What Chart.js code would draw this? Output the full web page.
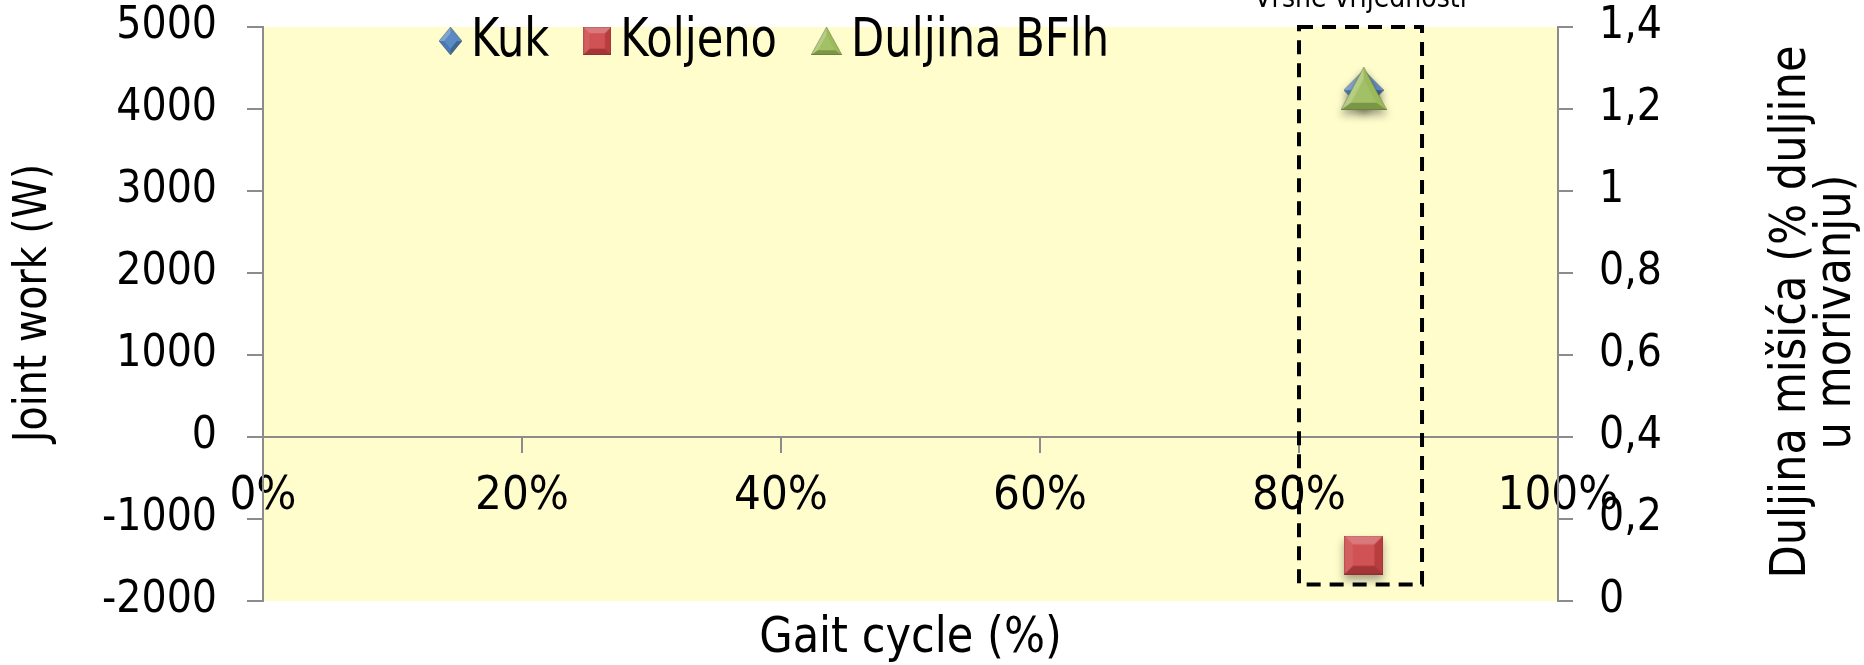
<!DOCTYPE html>
<html>
<head>
<meta charset="utf-8">
<script src="https://cdn.jsdelivr.net/npm/chart.js@4.4.0/dist/chart.umd.min.js"></script>
<style>
  html, body { margin: 0; padding: 0; background: #fff; }
  #wrap { width: 1864px; height: 665px; }
</style>
</head>
<body>
<div id="wrap"><canvas id="chart"></canvas></div>
<script>
// vršne vrijednosti: rad zgloba kuka i koljena, duljina BFlh
const peakGait = [85];
const kukWork = [4230];
const koljenoWork = [-1440];
const bflhLength = [1.25];

const gaitTicks = ['0%', '20%', '40%', '60%', '80%', '100%'];
const workTicks = ['-2000', '-1000', '0', '1000', '2000', '3000', '4000', '5000'];
const lengthTicks = ['0', '0,2', '0,4', '0,6', '0,8', '1', '1,2', '1,4'];

// okvir oko vršnih vrijednosti (u jedinicama osi)
const peakWindow = [80, 89.5];
const peakRange = [-1800, 5000];

const FONT = "'DejaVu Sans Condensed', 'Liberation Sans Narrow', 'DejaVu Sans', sans-serif";
const AXIS_GREY = '#8c8c8c';

Chart.defaults.font.family = FONT;
Chart.defaults.font.size = 46;
Chart.defaults.color = '#000';

// marker sa "bevel" sjenčanjem, kao u Excelu
function bevelMarker(shape, w, h, mid) {
    const c = document.createElement('canvas');
    c.width = w;
    c.height = h;
    const g = c.getContext('2d');
    let pts;
    if (shape === 'diamond') pts = [[w / 2, 0], [w, h / 2], [w / 2, h], [0, h / 2]];
    else if (shape === 'square') pts = [[0, 0], [w, 0], [w, h], [0, h]];
    else pts = [[w / 2, 0], [w, h], [0, h]];
    const cx = pts.reduce((s, p) => s + p[0], 0) / pts.length;
    const cy = shape === 'triangle' ? h * 0.62 : h / 2;

    const poly = (list) => {
        g.beginPath();
        list.forEach((p, i) => (i ? g.lineTo(p[0], p[1]) : g.moveTo(p[0], p[1])));
        g.closePath();
    };

    poly(pts);
    g.fillStyle = mid;
    g.fill();

    // fasete: svjetlo gore lijevo
    const L = [-0.45, -0.9];
    for (let i = 0; i < pts.length; i++) {
        const a = pts[i], b = pts[(i + 1) % pts.length];
        let nx = b[1] - a[1], ny = -(b[0] - a[0]);
        const len = Math.hypot(nx, ny);
        nx /= len; ny /= len;
        const d = nx * L[0] + ny * L[1];
        poly([a, b, [cx, cy]]);
        g.fillStyle = d > 0 ? `rgba(255,255,255,${0.32 * d})` : `rgba(0,0,0,${0.22 * -d})`;
        g.fill();
    }
    // ravni gornji dio
    const k = 0.55;
    poly(pts.map(p => [cx + (p[0] - cx) * k, cy + (p[1] - cy) * k]));
    g.fillStyle = mid;
    g.fill();
    g.fillStyle = 'rgba(255,255,255,0.08)';
    g.fill();

    poly(pts);
    g.lineWidth = 1;
    g.strokeStyle = 'rgba(0,0,0,0.25)';
    g.stroke();
    return c;
}

const BLUE = '#4f81bd', RED = '#cc4446', GREEN = '#9bbb59';

const markers = {
    kuk: bevelMarker('diamond', 40, 40, BLUE),
    koljeno: bevelMarker('square', 39, 39, RED),
    bflh: bevelMarker('triangle', 46, 43, GREEN)
};
const legendMarkers = [
    bevelMarker('diamond', 23, 28, BLUE),
    bevelMarker('square', 28, 28, RED),
    bevelMarker('triangle', 31, 28, GREEN)
];

const toPoints = (ys) => ys.map((y, i) => ({ x: peakGait[i], y }));

// tekst malo izdužen po visini
function tallText(ctx, text, x, y, size, stretch) {
    ctx.save();
    ctx.font = `${size}px ${FONT}`;
    ctx.translate(x, y);
    ctx.scale(1, stretch);
    ctx.fillText(text, 0, 0);
    ctx.restore();
}

const noEndPadding = (w) => (s) => {
    s.width = w;
    s.paddingTop = 0;
    s.paddingBottom = 0;
};

const decor = {
    id: 'decor',
    beforeDraw(chart) {
        const { ctx, chartArea: a } = chart;
        ctx.save();
        ctx.fillStyle = '#fffdcc';
        ctx.fillRect(a.left, a.top, a.right - a.left, a.bottom - a.top);
        ctx.restore();
    },
    beforeDatasetsDraw(chart) {
        const ctx = chart.ctx;
        ctx.save();
        ctx.shadowColor = 'rgba(0,0,0,0.35)';
        ctx.shadowBlur = 8;
        ctx.shadowOffsetY = 5;
    },
    afterDatasetsDraw(chart) {
        const ctx = chart.ctx;
        ctx.restore();

        // isprekidani okvir
        const xs = chart.scales.x, ys = chart.scales.y;
        const x0 = xs.getPixelForValue(peakWindow[0]), x1 = xs.getPixelForValue(peakWindow[1]);
        const y0 = ys.getPixelForValue(peakRange[1]), y1 = ys.getPixelForValue(peakRange[0]);
        ctx.save();
        ctx.strokeStyle = '#000';
        ctx.lineWidth = 4;
        ctx.setLineDash([14, 9]);
        ctx.strokeRect(x0, y0, x1 - x0, y1 - y0);
        ctx.restore();

        ctx.save();
        ctx.font = `28px ${FONT}`;
        ctx.fillStyle = '#000';
        ctx.textAlign = 'center';
        ctx.textBaseline = 'alphabetic';
        ctx.fillText('Vršne vrijednosti', (x0 + x1) / 2, 7);
        ctx.restore();
    },
    afterDraw(chart) {
        const { ctx, chartArea: a } = chart;
        ctx.save();
        ctx.fillStyle = '#000';

        // legenda
        ctx.textAlign = 'left';
        ctx.textBaseline = 'middle';
        ctx.font = `48px ${FONT}`;
        let x = 439;
        const ly = 41;
        chart.data.datasets.forEach((ds, i) => {
            const m = legendMarkers[i];
            ctx.drawImage(m, x, ly - m.height / 2);
            x += m.width + 9;
            tallText(ctx, ds.label, x, ly + 1, 48, 1.1);
            ctx.font = `48px ${FONT}`;
            x += ctx.measureText(ds.label).width + 34;
        });

        // naslov x osi
        ctx.textAlign = 'center';
        tallText(ctx, 'Gait cycle (%)', (a.left + a.right) / 2, 639, 48, 1.05);

        // naslov lijeve osi
        ctx.save();
        ctx.translate(34, 303);
        ctx.rotate(-Math.PI / 2);
        tallText(ctx, 'Joint work (W)', 0, 0, 44, 1.05);
        ctx.restore();

        // naslov desne osi, dva reda
        ctx.translate(a.right + 234, 312);
        ctx.rotate(-Math.PI / 2);
        tallText(ctx, 'Duljina mišića (% duljine', 0, 0, 48, 1.05);
        tallText(ctx, 'u morivanju)', 0, 45, 48, 1.05);
        ctx.restore();
    }
};

new Chart(document.getElementById('chart'), {
    type: 'scatter',
    data: {
        datasets: [
            { label: 'Kuk', data: toPoints(kukWork), yAxisID: 'y', pointStyle: markers.kuk, order: 2 },
            { label: 'Koljeno', data: toPoints(koljenoWork), yAxisID: 'y', pointStyle: markers.koljeno, order: 1 },
            { label: 'Duljina BFlh', data: toPoints(bflhLength), yAxisID: 'y1', pointStyle: markers.bflh, order: 0 }
        ]
    },
    options: {
        responsive: true,
        maintainAspectRatio: false,
        animation: false,
        devicePixelRatio: 1,
        layout: { padding: { top: 27, bottom: 64, left: 0, right: 0 } },
        plugins: { legend: { display: false }, tooltip: { enabled: false } },
        scales: {
            x: {
                type: 'linear',
                min: 0,
                max: 100,
                position: { y: 0 },
                grid: { drawOnChartArea: false, tickLength: 15, color: AXIS_GREY, lineWidth: 2 },
                border: { color: AXIS_GREY, width: 2 },
                ticks: {
                    stepSize: 20,
                    padding: 17,
                    maxRotation: 0,
                    font: { size: 47 },
                    callback: (v, i) => gaitTicks[i]
                }
            },
            y: {
                type: 'linear',
                position: 'left',
                min: -2000,
                max: 5000,
                afterFit: noEndPadding(263),
                grid: { drawOnChartArea: false, tickLength: 16, color: AXIS_GREY, lineWidth: 2 },
                border: { color: AXIS_GREY, width: 2 },
                ticks: { stepSize: 1000, padding: 30, font: { size: 44 }, callback: (v, i) => workTicks[i] }
            },
            y1: {
                type: 'linear',
                position: 'right',
                min: 0,
                max: 1.4,
                afterFit: noEndPadding(306),
                grid: { drawOnChartArea: false, tickLength: 15, color: AXIS_GREY, lineWidth: 2 },
                border: { color: AXIS_GREY, width: 2 },
                ticks: { stepSize: 0.2, padding: 26, font: { size: 44 }, callback: (v, i) => lengthTicks[i] }
            }
        }
    },
    plugins: [decor]
});
</script>
</body>
</html>
